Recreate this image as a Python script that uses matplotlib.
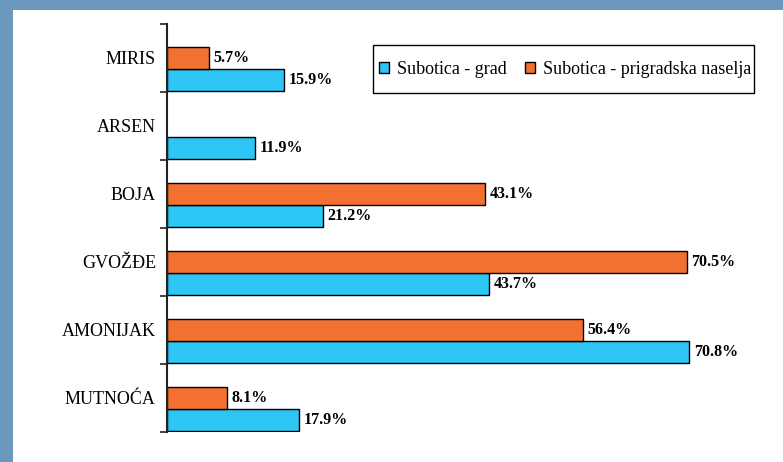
import numpy as np
import matplotlib
matplotlib.use("Agg")
from matplotlib import pyplot as plt
from matplotlib.patches import Rectangle

categories = ["MIRIS", "ARSEN", "BOJA", "GVOŽĐE", "AMONIJAK", "MUTNOĆA"]
grad = [15.9, 11.9, 21.2, 43.7, 70.8, 17.9]
prigradska = [5.7, None, 43.1, 70.5, 56.4, 8.1]
series_names = ["Subotica - grad", "Subotica - prigradska naselja"]

c_grad = "#2dc5f3"
c_prig = "#f37130"

plt.rcParams["font.family"] = ["Liberation Serif", "DejaVu Serif"]

fig = plt.figure(figsize=(7.83, 4.62), dpi=100)
fig.patch.set_facecolor("#6d98bd")
# white panel behind the chart
fig.patches.append(Rectangle((13 / 783, 0), 1, 1 - 10 / 462, transform=fig.transFigure,
                             facecolor="white", edgecolor="none", zorder=-10))

ax = fig.add_axes([167 / 783, 1 - 432 / 462, 613 / 783, 408 / 462])
ax.set_facecolor("none")

y = np.arange(len(categories))
h = 0.324
# bars sit in the lower part of each category band
y_prig = y - 0.5 + 0.34 + h / 2
y_grad = y_prig + h

ax.barh(y_grad, grad, height=h, color=c_grad, edgecolor="black", linewidth=1.0,
        label=series_names[0])
# ARSEN has no value for the suburbs, skip it
keep = [i for i, v in enumerate(prigradska) if v is not None]
ax.barh(y_prig[keep], [prigradska[i] for i in keep], height=h, color=c_prig,
        edgecolor="black", linewidth=1.0, label=series_names[1])

for yy, v in zip(y_grad, grad):
    ax.text(v + 0.6, yy, f"{v:.1f}%", va="center", ha="left", fontsize=11.5,
            fontweight="bold")
for i in keep:
    v = prigradska[i]
    ax.text(v + 0.6, y_prig[i], f"{v:.1f}%", va="center", ha="left", fontsize=11.5,
            fontweight="bold")

ax.set_xlim(0, 83.1)
ax.set_ylim(len(categories) - 0.5, -0.5)

ax.set_yticks(np.arange(-0.5, len(categories), 1.0))
ax.set_yticklabels([])
ax.set_yticks(y, minor=True)
ax.set_yticklabels(categories, minor=True, fontsize=13)
ax.tick_params(axis="y", which="major", length=5, width=1.2, direction="out", color="#222222")
ax.tick_params(axis="y", which="minor", length=0, pad=8)
ax.set_xticks([])

for s in ["top", "right", "bottom"]:
    ax.spines[s].set_visible(False)
ax.spines["left"].set_linewidth(1.5)
ax.spines["left"].set_color("#222222")

# legend without its own frame, box drawn separately (uneven padding as in the original)
leg = ax.legend(loc="center", bbox_to_anchor=(0.650, 0.8897), ncol=2, fontsize=13,
                frameon=False, handlelength=0.55, handleheight=0.55,
                handletextpad=0.45, columnspacing=1.0, borderpad=0, borderaxespad=0)
ax.add_patch(Rectangle((0.3361, 0.8309), 0.9576 - 0.3361, 0.9485 - 0.8309,
                       transform=ax.transAxes, facecolor="white", edgecolor="black",
                       linewidth=1.0, zorder=4, clip_on=False))
leg.set_zorder(5)

fig.savefig("out.png", dpi=100, facecolor=fig.get_facecolor())
